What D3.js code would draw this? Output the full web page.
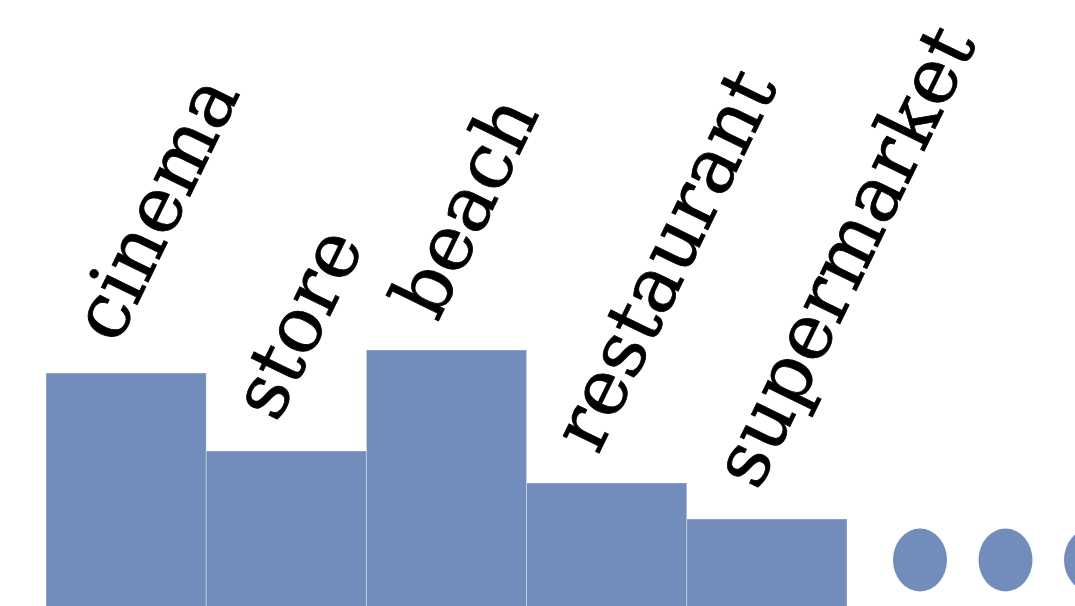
<!DOCTYPE html>
<html>
<head>
<meta charset="utf-8">
<script src="https://cdn.jsdelivr.net/npm/d3@7"></script>
<style>
html, body { margin: 0; padding: 0; background: #fff; overflow: hidden; }
</style>
</head>
<body>
<div id="canvas"></div>
<script>
// ----------------------------------------------------------
// DATA -----------------------------------------------------
// ----------------------------------------------------------
var categories = ["cinema", "store", "beach", "restaurant", "supermarket"];
var values = [233, 155, 256, 123, 87];
var more_dots = [0, 1, 2];

var width = 1075, height = 606;
var color_bar = "#728dbc";

// ----------------------------------------------------------
// STRUCTURE ------------------------------------------------
// ----------------------------------------------------------
var svg = d3.select("#canvas").append("svg")
.attr("width", width)
.attr("height", height);

// ----------------------------------------------------------
// SCALES ---------------------------------------------------
// ----------------------------------------------------------
var xScale = d3.scaleBand()
.domain(categories)
.range([46, 847])
.padding(0);

var yScale = d3.scaleLinear()
.domain([0, 300])
.range([606, 306]);

var dotScale = d3.scaleLinear()
.domain([0, 1])
.range([920, 1005.5]);

// ----------------------------------------------------------
// GFX ------------------------------------------------------
// ----------------------------------------------------------
// bars
svg.selectAll(".bar")
.data(values)
.enter().append("rect")
.attr("class", "bar")
.attr("x", function(d, i) { return xScale(categories[i]); })
.attr("y", function(d) { return yScale(d); })
.attr("width", xScale.bandwidth())
.attr("height", function(d) { return yScale(0) - yScale(d) + 20; })
.style("fill", color_bar)
.style("stroke", "#fff").style("stroke-opacity", 0.35).style("stroke-width", 1);

// labels
svg.selectAll(".label")
.data(values)
.enter().append("text")
.attr("class", "label")
.attr("transform", function(d, i) {
  var x = xScale(categories[i]) + xScale.bandwidth() / 2 - 9;
  var y = yScale(d) - 27;
  return "translate(" + x + "," + y + ") rotate(-64)";
})
.attr("text-anchor", "start")
.attr("font-family", "DejaVu Serif")
.attr("font-size", 77)
.style("fill", "#000")
.style("stroke", "#000").style("stroke-width", 0.8)
.text(function(d, i) { return categories[i]; });

// "more" dots
svg.selectAll(".dot")
.data(more_dots)
.enter().append("ellipse")
.attr("class", "dot")
.attr("cx", function(d) { return dotScale(d); })
.attr("cy", 560)
.attr("rx", 27)
.attr("ry", 31.5)
.style("fill", color_bar);
</script>
</body>
</html>
